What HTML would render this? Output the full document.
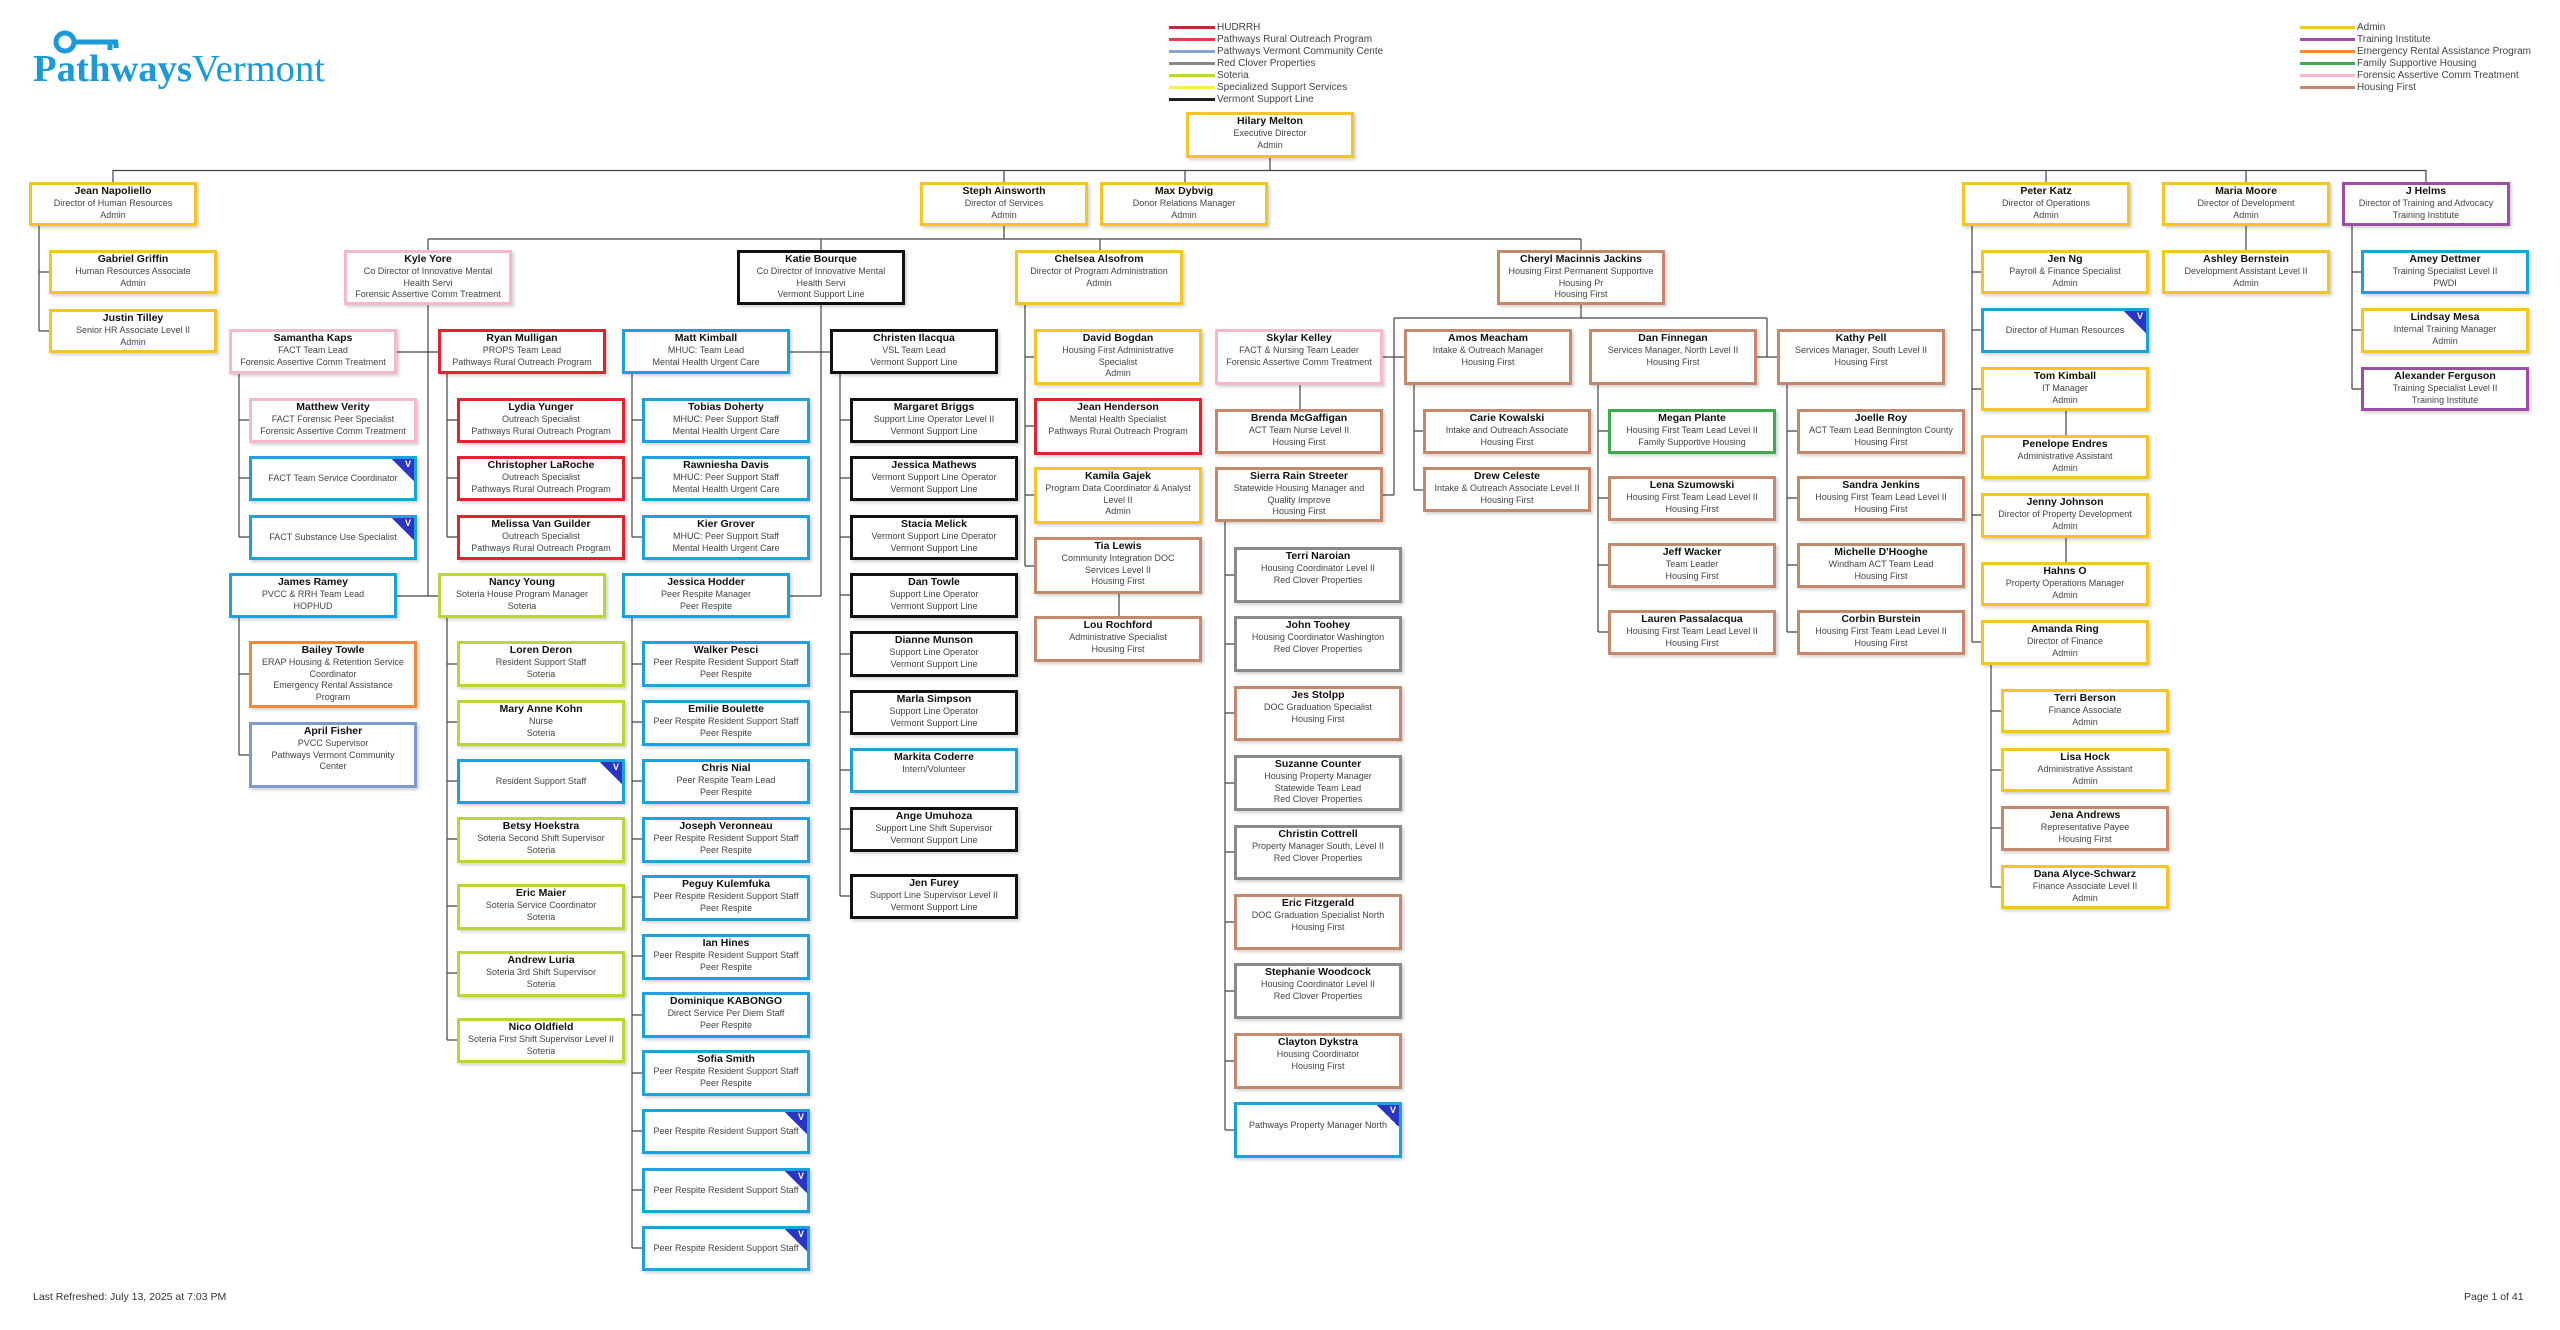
<!DOCTYPE html>
<html><head><meta charset="utf-8"><style>
*{margin:0;padding:0}
body{width:2560px;height:1330px;position:relative;background:#fff;overflow:hidden;font-family:"Liberation Sans",sans-serif}
.b{position:absolute;width:168px;border:3px solid #f3c623;box-sizing:border-box;background:#fff;text-align:center;font-size:9px;line-height:11.8px;color:#444;box-shadow:2px 2px 3px rgba(0,0,0,.18);white-space:nowrap;overflow:hidden;padding-top:1px}
.b b{font-size:10.5px;color:#111;display:block}
.v{display:flex;align-items:center;justify-content:center;padding-top:0}
.v:after{content:"V";position:absolute;right:0;top:0;width:22px;height:22px;background:linear-gradient(45deg,transparent 50%,#2a35c4 50%);color:#fff;font-size:9px;font-weight:bold;text-align:right;line-height:11px;padding-right:3px;box-sizing:border-box}
.A{border-color:#f3c623}.HF{border-color:#c4896a}.SV{border-color:#1ba1db}.FA{border-color:#f5b8cd}.PR{border-color:#e0232e}.VS{border-color:#111}.SO{border-color:#b8d63b}.TI{border-color:#9c4ea6}.ER{border-color:#ef8a3c}.FS{border-color:#3dab4c}.PV{border-color:#7b9bcc}.RC{border-color:#8a8a8a}
.lg{position:absolute;font-size:10px;color:#444;line-height:12px}
.lg div{height:12px;white-space:nowrap}
.lg i{display:inline-block;width:46px;height:3px;vertical-align:middle;margin-right:2px}
.ft{position:absolute;font-size:10.5px;color:#333;top:1291px}
</style></head><body>

<svg style="position:absolute;left:0;top:0" width="2560" height="1330">
<g fill="none" stroke="#1b9ad7" stroke-width="5">
<circle cx="65" cy="42" r="9"/>
<path d="M74 42 H118 M110 42 V50 M116 42 V48"/>
</g>
<text x="33" y="81" font-family="Liberation Serif" font-weight="bold" font-size="38" fill="#1b9ad7" textLength="159" lengthAdjust="spacingAndGlyphs">Pathways</text>
<text x="192" y="81" font-family="Liberation Serif" font-size="38" fill="#1b9ad7" textLength="133" lengthAdjust="spacingAndGlyphs">Vermont</text>
<g stroke="#444" stroke-width="1.2" fill="none">
<path d="M113 170.5H2426M113 170V182M1004 170V182M1185 170V182M2046 170V182M2246 170V182M2426 170V182M1270 158V170"/>
<path d="M39 226V331M39 272H49M39 331H49"/>
<path d="M1004 226V239M428 239H1581M428 239V250M821 239V250M1100 239V250M1581 239V250"/>
<path d="M428 305V596M396 352H438M396 596H438"/>
<path d="M239 374V537M239 420H249M239 478H249M239 537H249"/>
<path d="M447 374V537M447 420H457M447 478H457M447 537H457"/>
<path d="M239 618V755M239 674H249M239 755H249"/>
<path d="M447 618V1040M447 664H457M447 722H457M447 781H457M447 839H457M447 906H457M447 973H457M447 1040H457"/>
<path d="M821 305V596M789 352H830M789 596H821"/>
<path d="M632 374V537M632 420H642M632 478H642M632 537H642"/>
<path d="M632 618V1248M632 664H642M632 722H642M632 781H642M632 839H642M632 897H642M632 956H642M632 1015H642M632 1073H642M632 1131H642M632 1190H642M632 1248H642"/>
<path d="M840 374V896M840 420H850M840 478H850M840 537H850M840 595H850M840 654H850M840 712H850M840 770H850M840 829H850M840 896H850"/>
<path d="M1025 305V566M1025 357H1034M1025 426H1034M1025 495H1034M1025 566H1034M1119 594V616"/>
<path d="M1581 305V318M1394 318H1767M1394 318V495M1382 357H1404M1382 495H1394M1767 318V357M1756 357H1777M1300 385V409"/>
<path d="M1225 522V1130M1225 575H1234M1225 644H1234M1225 713H1234M1225 783H1234M1225 852H1234M1225 922H1234M1225 991H1234M1225 1061H1234M1225 1130H1234"/>
<path d="M1414 385V490M1414 431H1423M1414 490H1423"/>
<path d="M1598 385V632M1598 431H1608M1598 498H1608M1598 565H1608M1598 632H1608"/>
<path d="M1787 385V632M1787 431H1797M1787 498H1797M1787 565H1797M1787 632H1797"/>
<path d="M1972 226V642M1972 272H1981M1972 330H1981M1972 389H1981M1972 515H1981M1972 642H1981M2066 411V435M2066 538V562"/>
<path d="M1991 665V887M1991 711H2001M1991 770H2001M1991 828H2001M1991 887H2001"/>
<path d="M2246 226V250M2352 226V389M2352 272H2361M2352 330H2361M2352 389H2361"/>
</g>
</svg>

<div class="lg" style="left:1169px;top:22px">
<div><i style="background:#b0313c"></i>HUDRRH</div>
<div><i style="background:#e8364a"></i>Pathways Rural Outreach Program</div>
<div><i style="background:#8aa5cf"></i>Pathways Vermont Community Cente</div>
<div><i style="background:#888"></i>Red Clover Properties</div>
<div><i style="background:#b9d83a"></i>Soteria</div>
<div><i style="background:#f4f04a"></i>Specialized Support Services</div>
<div><i style="background:#222"></i>Vermont Support Line</div>
</div>
<div class="lg" style="left:2300px;top:22px">
<div><i style="background:#f3c623;width:55px"></i>Admin</div>
<div><i style="background:#9c4ea6;width:55px"></i>Training Institute</div>
<div><i style="background:#ef8a3c;width:55px"></i>Emergency Rental Assistance Program</div>
<div><i style="background:#3dab4c;width:55px"></i>Family Supportive Housing</div>
<div><i style="background:#f7b8d0;width:55px"></i>Forensic Assertive Comm Treatment</div>
<div><i style="background:#c4896a;width:55px"></i>Housing First</div>
</div>

<div class="b A" style="left:1186px;top:112px;height:46px"><b>Hilary Melton</b>Executive Director<br>Admin</div>
<div class="b A" style="left:29px;top:182px;height:44px"><b>Jean Napoliello</b>Director of Human Resources<br>Admin</div>
<div class="b A" style="left:920px;top:182px;height:44px"><b>Steph Ainsworth</b>Director of Services<br>Admin</div>
<div class="b A" style="left:1100px;top:182px;height:44px"><b>Max Dybvig</b>Donor Relations Manager<br>Admin</div>
<div class="b A" style="left:1962px;top:182px;height:44px"><b>Peter Katz</b>Director of Operations<br>Admin</div>
<div class="b A" style="left:2162px;top:182px;height:44px"><b>Maria Moore</b>Director of Development<br>Admin</div>
<div class="b TI" style="left:2342px;top:182px;height:44px"><b>J Helms</b>Director of Training and Advocacy<br>Training Institute</div>

<div class="b A" style="left:49px;top:250px;height:44px"><b>Gabriel Griffin</b>Human Resources Associate<br>Admin</div>
<div class="b A" style="left:49px;top:309px;height:44px"><b>Justin Tilley</b>Senior HR Associate Level II<br>Admin</div>

<div class="b FA" style="left:344px;top:250px;height:55px"><b>Kyle Yore</b>Co Director of Innovative Mental<br>Health Servi<br>Forensic Assertive Comm Treatment</div>
<div class="b VS" style="left:737px;top:250px;height:55px"><b>Katie Bourque</b>Co Director of Innovative Mental<br>Health Servi<br>Vermont Support Line</div>
<div class="b A" style="left:1015px;top:250px;height:55px"><b>Chelsea Alsofrom</b>Director of Program Administration<br>Admin</div>
<div class="b HF" style="left:1497px;top:250px;height:55px"><b>Cheryl Macinnis Jackins</b>Housing First Permanent Supportive<br>Housing Pr<br>Housing First</div>

<div class="b FA" style="left:229px;top:329px;height:45px"><b>Samantha Kaps</b>FACT Team Lead<br>Forensic Assertive Comm Treatment</div>
<div class="b PR" style="left:438px;top:329px;height:45px"><b>Ryan Mulligan</b>PROPS Team Lead<br>Pathways Rural Outreach Program</div>
<div class="b FA" style="left:249px;top:398px;height:45px"><b>Matthew Verity</b>FACT Forensic Peer Specialist<br>Forensic Assertive Comm Treatment</div>
<div class="b SV v" style="left:249px;top:456px;height:45px">FACT Team Service Coordinator</div>
<div class="b SV v" style="left:249px;top:515px;height:45px">FACT Substance Use Specialist</div>
<div class="b PR" style="left:457px;top:398px;height:45px"><b>Lydia Yunger</b>Outreach Specialist<br>Pathways Rural Outreach Program</div>
<div class="b PR" style="left:457px;top:456px;height:45px"><b>Christopher LaRoche</b>Outreach Specialist<br>Pathways Rural Outreach Program</div>
<div class="b PR" style="left:457px;top:515px;height:45px"><b>Melissa Van Guilder</b>Outreach Specialist<br>Pathways Rural Outreach Program</div>
<div class="b SV" style="left:229px;top:573px;height:45px"><b>James Ramey</b>PVCC &amp; RRH Team Lead<br>HOPHUD</div>
<div class="b SO" style="left:438px;top:573px;height:45px"><b>Nancy Young</b>Soteria House Program Manager<br>Soteria</div>
<div class="b ER" style="left:249px;top:641px;height:67px"><b>Bailey Towle</b>ERAP Housing &amp; Retention Service<br>Coordinator<br>Emergency Rental Assistance<br>Program</div>
<div class="b PV" style="left:249px;top:722px;height:66px"><b>April Fisher</b>PVCC Supervisor<br>Pathways Vermont Community<br>Center</div>
<div class="b SO" style="left:457px;top:641px;height:46px"><b>Loren Deron</b>Resident Support Staff<br>Soteria</div>
<div class="b SO" style="left:457px;top:700px;height:46px"><b>Mary Anne Kohn</b>Nurse<br>Soteria</div>
<div class="b SV v" style="left:457px;top:759px;height:45px">Resident Support Staff</div>
<div class="b SO" style="left:457px;top:817px;height:46px"><b>Betsy Hoekstra</b>Soteria Second Shift Supervisor<br>Soteria</div>
<div class="b SO" style="left:457px;top:884px;height:46px"><b>Eric Maier</b>Soteria Service Coordinator<br>Soteria</div>
<div class="b SO" style="left:457px;top:951px;height:46px"><b>Andrew Luria</b>Soteria 3rd Shift Supervisor<br>Soteria</div>
<div class="b SO" style="left:457px;top:1018px;height:45px"><b>Nico Oldfield</b>Soteria First Shift Supervisor Level II<br>Soteria</div>

<div class="b SV" style="left:622px;top:329px;height:45px"><b>Matt Kimball</b>MHUC: Team Lead<br>Mental Health Urgent Care</div>
<div class="b SV" style="left:642px;top:398px;height:45px"><b>Tobias Doherty</b>MHUC: Peer Support Staff<br>Mental Health Urgent Care</div>
<div class="b SV" style="left:642px;top:456px;height:45px"><b>Rawniesha Davis</b>MHUC: Peer Support Staff<br>Mental Health Urgent Care</div>
<div class="b SV" style="left:642px;top:515px;height:45px"><b>Kier Grover</b>MHUC: Peer Support Staff<br>Mental Health Urgent Care</div>
<div class="b SV" style="left:622px;top:573px;height:45px"><b>Jessica Hodder</b>Peer Respite Manager<br>Peer Respite</div>
<div class="b SV" style="left:642px;top:641px;height:46px"><b>Walker Pesci</b>Peer Respite Resident Support Staff<br>Peer Respite</div>
<div class="b SV" style="left:642px;top:700px;height:46px"><b>Emilie Boulette</b>Peer Respite Resident Support Staff<br>Peer Respite</div>
<div class="b SV" style="left:642px;top:759px;height:45px"><b>Chris Nial</b>Peer Respite Team Lead<br>Peer Respite</div>
<div class="b SV" style="left:642px;top:817px;height:46px"><b>Joseph Veronneau</b>Peer Respite Resident Support Staff<br>Peer Respite</div>
<div class="b SV" style="left:642px;top:875px;height:46px"><b>Peguy Kulemfuka</b>Peer Respite Resident Support Staff<br>Peer Respite</div>
<div class="b SV" style="left:642px;top:934px;height:46px"><b>Ian Hines</b>Peer Respite Resident Support Staff<br>Peer Respite</div>
<div class="b SV" style="left:642px;top:992px;height:46px"><b>Dominique KABONGO</b>Direct Service Per Diem Staff<br>Peer Respite</div>
<div class="b SV" style="left:642px;top:1050px;height:46px"><b>Sofia Smith</b>Peer Respite Resident Support Staff<br>Peer Respite</div>
<div class="b SV v" style="left:642px;top:1109px;height:45px">Peer Respite Resident Support Staff</div>
<div class="b SV v" style="left:642px;top:1168px;height:45px">Peer Respite Resident Support Staff</div>
<div class="b SV v" style="left:642px;top:1226px;height:45px">Peer Respite Resident Support Staff</div>

<div class="b VS" style="left:830px;top:329px;height:45px"><b>Christen Ilacqua</b>VSL Team Lead<br>Vermont Support Line</div>
<div class="b VS" style="left:850px;top:398px;height:45px"><b>Margaret Briggs</b>Support Line Operator Level II<br>Vermont Support Line</div>
<div class="b VS" style="left:850px;top:456px;height:45px"><b>Jessica Mathews</b>Vermont Support Line Operator<br>Vermont Support Line</div>
<div class="b VS" style="left:850px;top:515px;height:45px"><b>Stacia Melick</b>Vermont Support Line Operator<br>Vermont Support Line</div>
<div class="b VS" style="left:850px;top:573px;height:45px"><b>Dan Towle</b>Support Line Operator<br>Vermont Support Line</div>
<div class="b VS" style="left:850px;top:631px;height:46px"><b>Dianne Munson</b>Support Line Operator<br>Vermont Support Line</div>
<div class="b VS" style="left:850px;top:690px;height:45px"><b>Marla Simpson</b>Support Line Operator<br>Vermont Support Line</div>
<div class="b SV" style="left:850px;top:748px;height:45px"><b>Markita Coderre</b>Intern/Volunteer</div>
<div class="b VS" style="left:850px;top:807px;height:45px"><b>Ange Umuhoza</b>Support Line Shift Supervisor<br>Vermont Support Line</div>
<div class="b VS" style="left:850px;top:874px;height:45px"><b>Jen Furey</b>Support Line Supervisor Level II<br>Vermont Support Line</div>

<div class="b A" style="left:1034px;top:329px;height:56px"><b>David Bogdan</b>Housing First Administrative<br>Specialist<br>Admin</div>
<div class="b PR" style="left:1034px;top:398px;height:57px"><b>Jean Henderson</b>Mental Health Specialist<br>Pathways Rural Outreach Program</div>
<div class="b A" style="left:1034px;top:467px;height:57px"><b>Kamila Gajek</b>Program Data Coordinator &amp; Analyst<br>Level II<br>Admin</div>
<div class="b HF" style="left:1034px;top:537px;height:57px"><b>Tia Lewis</b>Community Integration DOC<br>Services Level II<br>Housing First</div>
<div class="b HF" style="left:1034px;top:616px;height:46px"><b>Lou Rochford</b>Administrative Specialist<br>Housing First</div>

<div class="b FA" style="left:1215px;top:329px;height:56px"><b>Skylar Kelley</b>FACT &amp; Nursing Team Leader<br>Forensic Assertive Comm Treatment</div>
<div class="b HF" style="left:1215px;top:409px;height:45px"><b>Brenda McGaffigan</b>ACT Team Nurse Level II<br>Housing First</div>
<div class="b HF" style="left:1215px;top:467px;height:55px"><b>Sierra Rain Streeter</b>Statewide Housing Manager and<br>Quality Improve<br>Housing First</div>
<div class="b RC" style="left:1234px;top:547px;height:56px"><b>Terri Naroian</b>Housing Coordinator Level II<br>Red Clover Properties</div>
<div class="b RC" style="left:1234px;top:616px;height:56px"><b>John Toohey</b>Housing Coordinator Washington<br>Red Clover Properties</div>
<div class="b HF" style="left:1234px;top:686px;height:55px"><b>Jes Stolpp</b>DOC Graduation Specialist<br>Housing First</div>
<div class="b RC" style="left:1234px;top:755px;height:56px"><b>Suzanne Counter</b>Housing Property Manager<br>Statewide Team Lead<br>Red Clover Properties</div>
<div class="b RC" style="left:1234px;top:825px;height:55px"><b>Christin Cottrell</b>Property Manager South, Level II<br>Red Clover Properties</div>
<div class="b HF" style="left:1234px;top:894px;height:56px"><b>Eric Fitzgerald</b>DOC Graduation Specialist North<br>Housing First</div>
<div class="b RC" style="left:1234px;top:963px;height:56px"><b>Stephanie Woodcock</b>Housing Coordinator Level II<br>Red Clover Properties</div>
<div class="b HF" style="left:1234px;top:1033px;height:56px"><b>Clayton Dykstra</b>Housing Coordinator<br>Housing First</div>
<div class="b SV v" style="left:1234px;top:1102px;height:56px;align-items:flex-start;padding-top:15px">Pathways Property Manager North</div>

<div class="b HF" style="left:1404px;top:329px;height:56px"><b>Amos Meacham</b>Intake &amp; Outreach Manager<br>Housing First</div>
<div class="b HF" style="left:1423px;top:409px;height:45px"><b>Carie Kowalski</b>Intake and Outreach Associate<br>Housing First</div>
<div class="b HF" style="left:1423px;top:467px;height:45px"><b>Drew Celeste</b>Intake &amp; Outreach Associate Level II<br>Housing First</div>

<div class="b HF" style="left:1589px;top:329px;height:56px"><b>Dan Finnegan</b>Services Manager, North Level II<br>Housing First</div>
<div class="b FS" style="left:1608px;top:409px;height:45px"><b>Megan Plante</b>Housing First Team Lead Level II<br>Family Supportive Housing</div>
<div class="b HF" style="left:1608px;top:476px;height:45px"><b>Lena Szumowski</b>Housing First Team Lead Level II<br>Housing First</div>
<div class="b HF" style="left:1608px;top:543px;height:45px"><b>Jeff Wacker</b>Team Leader<br>Housing First</div>
<div class="b HF" style="left:1608px;top:610px;height:45px"><b>Lauren Passalacqua</b>Housing First Team Lead Level II<br>Housing First</div>

<div class="b HF" style="left:1777px;top:329px;height:56px"><b>Kathy Pell</b>Services Manager, South Level II<br>Housing First</div>
<div class="b HF" style="left:1797px;top:409px;height:45px"><b>Joelle Roy</b>ACT Team Lead Bennington County<br>Housing First</div>
<div class="b HF" style="left:1797px;top:476px;height:45px"><b>Sandra Jenkins</b>Housing First Team Lead Level II<br>Housing First</div>
<div class="b HF" style="left:1797px;top:543px;height:45px"><b>Michelle D'Hooghe</b>Windham ACT Team Lead<br>Housing First</div>
<div class="b HF" style="left:1797px;top:610px;height:45px"><b>Corbin Burstein</b>Housing First Team Lead Level II<br>Housing First</div>

<div class="b A" style="left:1981px;top:250px;height:44px"><b>Jen Ng</b>Payroll &amp; Finance Specialist<br>Admin</div>
<div class="b SV v" style="left:1981px;top:308px;height:45px">Director of Human Resources</div>
<div class="b A" style="left:1981px;top:367px;height:44px"><b>Tom Kimball</b>IT Manager<br>Admin</div>
<div class="b A" style="left:1981px;top:435px;height:44px"><b>Penelope Endres</b>Administrative Assistant<br>Admin</div>
<div class="b A" style="left:1981px;top:493px;height:45px"><b>Jenny Johnson</b>Director of Property Development<br>Admin</div>
<div class="b A" style="left:1981px;top:562px;height:44px"><b>Hahns O</b>Property Operations Manager<br>Admin</div>
<div class="b A" style="left:1981px;top:620px;height:45px"><b>Amanda Ring</b>Director of Finance<br>Admin</div>
<div class="b A" style="left:2001px;top:689px;height:44px"><b>Terri Berson</b>Finance Associate<br>Admin</div>
<div class="b A" style="left:2001px;top:748px;height:44px"><b>Lisa Hock</b>Administrative Assistant<br>Admin</div>
<div class="b HF" style="left:2001px;top:806px;height:45px"><b>Jena Andrews</b>Representative Payee<br>Housing First</div>
<div class="b A" style="left:2001px;top:865px;height:44px"><b>Dana Alyce-Schwarz</b>Finance Associate Level II<br>Admin</div>

<div class="b A" style="left:2162px;top:250px;height:44px"><b>Ashley Bernstein</b>Development Assistant Level II<br>Admin</div>
<div class="b SV" style="left:2361px;top:250px;height:44px"><b>Amey Dettmer</b>Training Specialist Level II<br>PWDI</div>
<div class="b A" style="left:2361px;top:308px;height:45px"><b>Lindsay Mesa</b>Internal Training Manager<br>Admin</div>
<div class="b TI" style="left:2361px;top:367px;height:44px"><b>Alexander Ferguson</b>Training Specialist Level II<br>Training Institute</div>

<div class="ft" style="left:33px">Last Refreshed: July 13, 2025 at 7:03 PM</div>
<div class="ft" style="left:2464px">Page 1 of 41</div>
</body></html>
